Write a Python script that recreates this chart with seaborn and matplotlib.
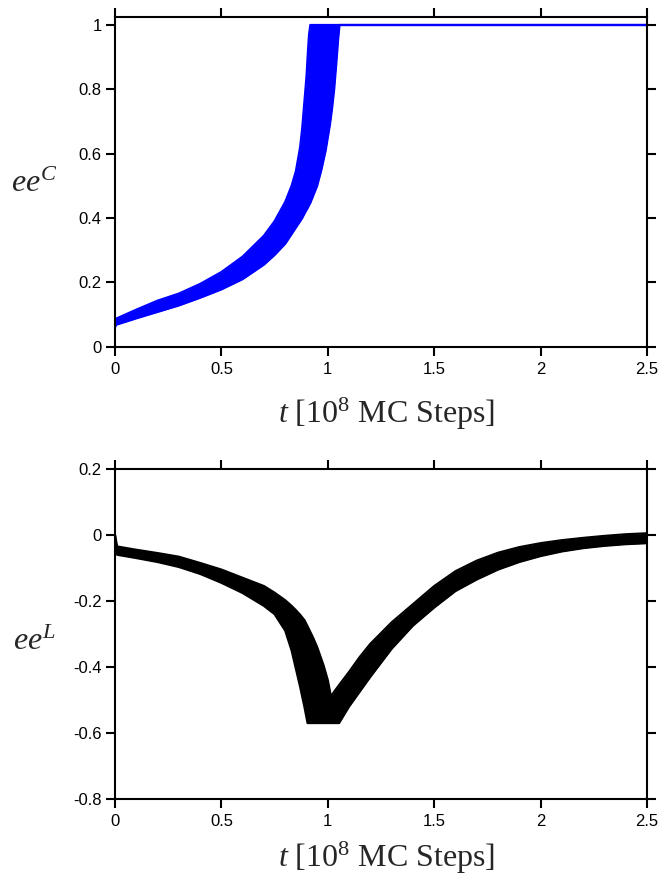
import matplotlib
matplotlib.use("Agg")
import matplotlib.pyplot as plt
import numpy as np
import pandas as pd
import seaborn as sns

# ---------------- data ----------------
# Top panel: envelope of the ensemble of ee^C trajectories
t_top = [0.0, 0.005, 0.1, 0.2, 0.3, 0.4, 0.5, 0.6, 0.7, 0.75, 0.8, 0.83,
         0.85, 0.87, 0.88, 0.89, 0.9, 0.907, 0.912, 0.918, 0.95, 0.97, 0.99,
         1.0, 1.01, 1.02, 1.03, 1.04, 1.048, 1.055, 2.5]
eeC_high = [0.065, 0.087, 0.115, 0.143, 0.165, 0.195, 0.232, 0.28, 0.345, 0.39,
            0.45, 0.50, 0.545, 0.62, 0.68, 0.76, 0.84, 0.92, 0.97, 1.0, 1.0,
            1.0, 1.0, 1.0, 1.0, 1.0, 1.0, 1.0, 1.0, 1.0, 1.0]
eeC_low = [0.06, 0.068, 0.088, 0.108, 0.128, 0.152, 0.178, 0.21, 0.255, 0.285,
           0.32, 0.35, 0.37, 0.39, 0.40, 0.413, 0.425, 0.433, 0.44, 0.447, 0.50,
           0.55, 0.61, 0.65, 0.69, 0.74, 0.80, 0.88, 0.95, 1.0, 1.0]

# Bottom panel: envelope of the ensemble of ee^L trajectories
t_bot = [0.0, 0.01, 0.1, 0.2, 0.3, 0.4, 0.5, 0.6, 0.7, 0.75, 0.8, 0.83, 0.85,
         0.87, 0.89, 0.905, 0.93, 0.95, 0.98, 1.0, 1.015, 1.03, 1.053, 1.1,
         1.15, 1.2, 1.3, 1.4, 1.5, 1.6, 1.7, 1.8, 1.9, 2.0, 2.1, 2.2, 2.3,
         2.4, 2.5]
eeL_high = [0.0, -0.035, -0.045, -0.055, -0.066, -0.085, -0.105, -0.13, -0.155,
            -0.175, -0.198, -0.215, -0.228, -0.242, -0.258, -0.277, -0.31,
            -0.34, -0.395, -0.44, -0.49, -0.475, -0.455, -0.415, -0.37, -0.33,
            -0.265, -0.21, -0.155, -0.11, -0.078, -0.054, -0.037, -0.025,
            -0.016, -0.009, -0.003, 0.002, 0.005]
eeL_low = [0.0, -0.06, -0.07, -0.082, -0.097, -0.118, -0.145, -0.176, -0.215,
           -0.24, -0.29, -0.35, -0.405, -0.46, -0.52, -0.57, -0.57, -0.57,
           -0.57, -0.57, -0.57, -0.57, -0.57, -0.52, -0.475, -0.43, -0.345,
           -0.275, -0.22, -0.17, -0.135, -0.105, -0.082, -0.064, -0.05, -0.04,
           -0.033, -0.028, -0.025]

x_ticks = [0, 0.5, 1, 1.5, 2, 2.5]
x_ticklabels = ["0", "0.5", "1", "1.5", "2", "2.5"]
yC_ticks = [0, 0.2, 0.4, 0.6, 0.8, 1.0]
yC_ticklabels = ["0", "0.2", "0.4", "0.6", "0.8", "1"]
yL_ticks = [-0.8, -0.6, -0.4, -0.2, 0, 0.2]
yL_ticklabels = ["-0.8", "-0.6", "-0.4", "-0.2", "0", "0.2"]

x_label = r"$t$ [10$^{8}$ MC Steps]"
yC_label = r"$ee^{C}$"
yL_label = r"$ee^{L}$"

# ---------------- style ----------------
sns.set_theme(style="ticks")
plt.rcParams["font.family"] = ["Liberation Sans", "DejaVu Sans"]
plt.rcParams["mathtext.fontset"] = "custom"
plt.rcParams["mathtext.rm"] = "Liberation Serif"
plt.rcParams["mathtext.it"] = "Liberation Serif:italic"
plt.rcParams["axes.linewidth"] = 1.5

fig = plt.figure(figsize=(6.62, 8.77), dpi=100)
ax1 = fig.add_axes([0.1737, 0.6047, 0.8036, 0.3756])
ax2 = fig.add_axes([0.1737, 0.0890, 0.8036, 0.3763])


def draw_band(ax, t, lo, hi, color):
    df = pd.DataFrame({
        "t": list(t) + list(t),
        "v": list(lo) + list(hi),
        "edge": ["lo"] * len(t) + ["hi"] * len(t),
    })
    ax.fill_between(t, lo, hi, color=color, lw=0)
    sns.lineplot(data=df, x="t", y="v", units="edge", estimator=None,
                 color=color, lw=1.6, ax=ax, legend=False)


draw_band(ax1, t_top, eeC_low, eeC_high, "#0000ff")
draw_band(ax2, t_bot, eeL_low, eeL_high, "#000000")

serif = ["Liberation Serif", "DejaVu Serif"]
for ax, yt, ytl, ylim, ylab, ylab_y, xlab_y in [
    (ax1, yC_ticks, yC_ticklabels, (0, 1.024), yC_label, 0.47, -0.232),
    (ax2, yL_ticks, yL_ticklabels, (-0.8, 0.2), yL_label, 0.452, -0.207),
]:
    ax.set_xlim(0, 2.5)
    ax.set_ylim(*ylim)
    ax.set_xticks(x_ticks)
    ax.set_xticklabels(x_ticklabels)
    ax.set_yticks(yt)
    ax.set_yticklabels(ytl)
    ax.tick_params(axis="both", which="major", direction="out", length=6.5,
                   width=1.5, labelsize=12, color="black", labelcolor="black",
                   top=True, right=True, labeltop=False, labelright=False)
    ax.tick_params(axis="x", pad=4.5)
    ax.tick_params(axis="y", pad=3)
    for s in ax.spines.values():
        s.set_visible(True)
        s.set_color("black")
        s.set_linewidth(1.5)
    ax.set_xlabel(x_label, fontsize=23, family=serif, ha="center", va="baseline")
    ax.xaxis.set_label_coords(0.51, xlab_y)
    ax.set_ylabel(ylab, fontsize=23, family=serif, rotation=0,
                  ha="center", va="baseline")
    ax.yaxis.set_label_coords(-0.152, ylab_y)
    ax.set_facecolor("white")

fig.savefig("out.png", dpi=100, facecolor="white")
